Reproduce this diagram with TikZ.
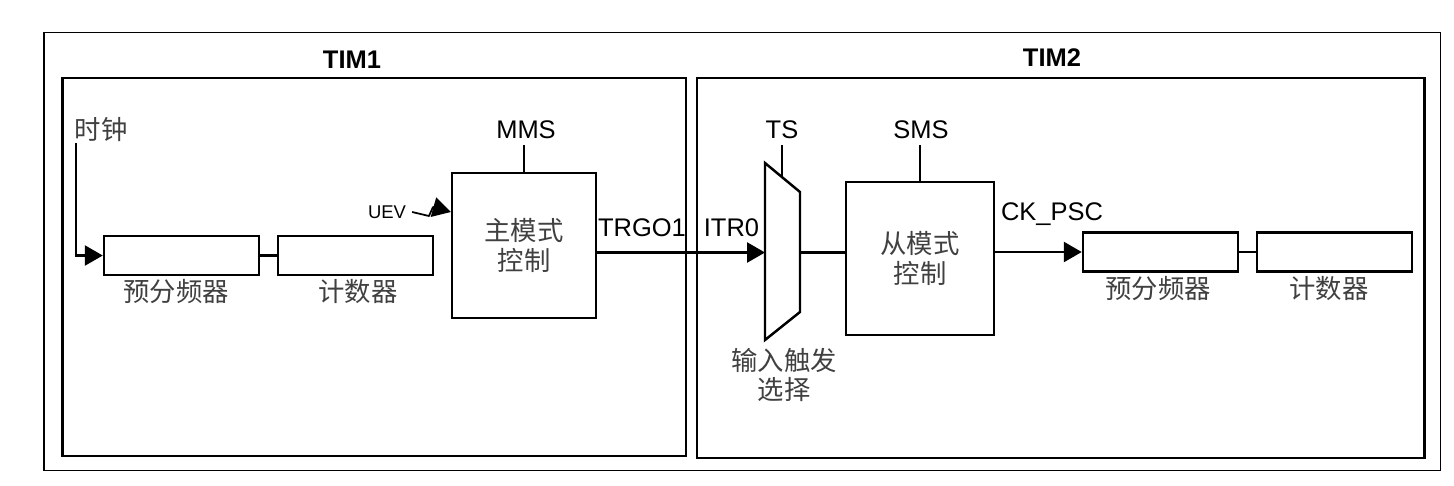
\documentclass[tikz,border=0pt]{standalone}
\usepackage{fontspec}
\setmainfont{Liberation Sans}
\newfontfamily\cjk{Noto Sans CJK SC}
\usetikzlibrary{arrows.meta,positioning}
\tikzset{
  frm/.style={line width=1.4pt},
  wire/.style={line width=1.4pt},
  sig/.style={wire,-{Triangle[length=3.6mm,width=4mm]}},
  blk/.style={draw,line width=1.4pt,minimum width=3.1cm,minimum height=0.78cm,inner sep=0pt},
  ctl/.style={draw,line width=1.4pt,align=center,font=\cjk\fontsize{15}{17}\selectfont,text=black!75,inner sep=0pt},
  lbl/.style={font=\fontsize{14.5}{17}\selectfont},
  ttl/.style={font=\bfseries\fontsize{14.5}{17}\selectfont},
  sml/.style={font=\fontsize{10.5}{12}\selectfont},
  cnl/.style={font=\cjk\fontsize{15}{17}\selectfont,text=black!75,align=center}
}

\begin{document}
\begin{tikzpicture}[x=0.02cm,y=-0.02cm,line join=miter]
\useasboundingbox (0,0) rectangle (1454,485);
% --- frames
\draw[line width=1.1pt] (44,32.5) rectangle (1440.5,470.5);
\draw[frm] (62.5,78) rectangle (686,456);
\draw[frm] (697,78) rectangle (1424.5,458);
\node[ttl] (tim1) at (352,60) {TIM1};
\node[ttl] (tim2) at (1052,58) {TIM2};
% --- TIM1: clock, prescaler, counter, master mode
\node[cnl] (clk) at (101,130) {时钟};
\coordinate (clkin) at (76,143);
\node[blk] (psc1) at (181.5,255.5) {};
\node[blk] (cnt1) at (355.3,255.5) {};
\node[cnl] (psc1t) at (176,291.5) {预分频器};
\node[cnl] (cnt1t) at (358,291.5) {计数器};
\draw[sig] (clkin) |- (psc1.west);
\draw[wire] (psc1) -- (cnt1);
\node[ctl,minimum width=2.88cm,minimum height=2.9cm] (mms) at (524,245.5) {主模式\\控制};
\node[lbl] (mmst) at (526,130) {MMS};
\draw[wire] (mms.north) -- (mms.north |- mmst.south);
\node[sml] (uev) at (387,212) {UEV};
\draw[line width=1pt,line join=round,-{Triangle[length=3.6mm,width=4mm]}] (uev.east) -- (429,216) -- (433,207) -- (mms.west |- uev);
\node[lbl] (trgo) at (642,228) {TRGO1};
% --- TIM2: trigger select, slave mode, prescaler, counter
\node[lbl] (itr) at (731.5,228) {ITR0};
\coordinate (muxa) at (765,163);
\coordinate (muxb) at (800,192);
\coordinate (muxc) at (800,312);
\coordinate (muxd) at (765,340);
\coordinate (muxin) at (765,252.5);
\coordinate (muxout) at (800,252.5);
\coordinate (muxts) at (782,177);
\draw[wire] (muxa) -- (muxb) -- (muxc) -- (muxd) -- cycle;
\draw[sig] (mms.east |- muxin) -- (muxin);
\node[lbl] (ts) at (782,130) {TS};
\draw[wire] (ts.south) -- (muxts);
\node[cnl] (tsel) at (784,375) {输入触发\\选择};
\node[ctl,minimum width=2.96cm,minimum height=3.06cm] (sms) at (920,258.5) {从模式\\控制};
\draw[wire] (muxout) -- (sms.west |- muxout);
\node[lbl] (smst) at (921,130) {SMS};
\draw[wire] (sms.north) -- (sms.north |- smst.south);
\node[blk] (psc2) at (1160.5,252) {};
\node[blk] (cnt2) at (1334.3,252) {};
\draw[wire] (psc2) -- (cnt2);
\draw[sig] (sms.east |- psc2.west) -- (psc2.west);
\node[lbl] (ckpsc) at (1052,214) {CK\_PSC};
\node[cnl] (psc2t) at (1158,288) {预分频器};
\node[cnl] (cnt2t) at (1329,288) {计数器};
\end{tikzpicture}
\end{document}
